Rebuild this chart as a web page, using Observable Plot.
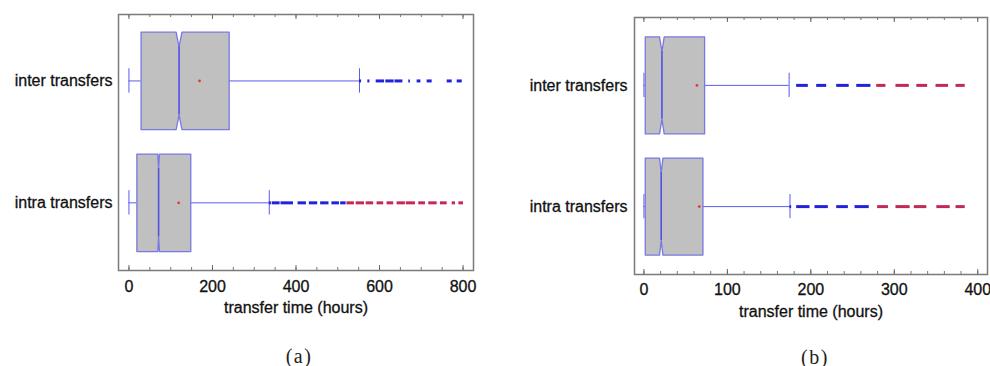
<!DOCTYPE html>
<html><head><meta charset="utf-8">
<script src="https://cdn.jsdelivr.net/npm/d3@7"></script>
<script src="https://cdn.jsdelivr.net/npm/@observablehq/plot@0.6"></script>
<style>
html,body{margin:0;padding:0;background:#fff;}
#fig{position:relative;width:990px;height:366px;overflow:hidden;font-family:"Liberation Sans",Arial,sans-serif;}
.panel{position:absolute;top:0;}
#fig svg text{stroke:#111;stroke-width:0.3px;}
.cap{position:absolute;font-family:"Liberation Serif","Times New Roman",serif;font-size:20px;letter-spacing:1.5px;transform:translate(-50%,-50%);white-space:nowrap;color:#222;}
</style></head><body>
<div id="fig"></div>
<script>
// ---------- data ----------
const groups = ["inter transfers", "intra transfers"];
const xTitle = "transfer time (hours)";
const captions = ["(a)", "(b)"];

// panel (a)
const aTicksMajor = [0, 200, 400, 600, 800];
const aTicksMinor = [0, 50, 100, 150, 200, 250, 300, 350, 400, 450, 500, 550, 600, 650, 700, 750, 800];
const aWhiskerLow = [0, 0];
const aQ1 = [29, 19];
const aNotchLow = [113, 69];
const aMedian = [120, 71];
const aNotchHigh = [127, 73];
const aQ3 = [240, 148];
const aWhiskerHigh = [552, 336];
const aMean = [169, 119];
const aInterOutBlue = [[552, 557], [572, 577], [592, 612], [615, 635], [637, 656], [670, 674], [690, 699], [714, 726], [762, 774], [786, 798]];
const aInterOutRed = [];
const aIntraOutBlue = [[336, 341], [343, 362], [364, 394], [405, 425], [432, 452], [459, 479], [486, 504], [507, 520]];
const aIntraOutRed = [[522, 540], [544, 564], [568, 586], [594, 610], [618, 634], [642, 662], [664, 686], [694, 710], [718, 738], [746, 762], [774, 782], [790, 801]];

// panel (b)
const bTicksMajor = [0, 100, 200, 300, 400];
const bTicksMinor = [0, 20, 40, 60, 80, 100, 120, 140, 160, 180, 200, 220, 240, 260, 280, 300, 320, 340, 360, 380, 400];
const bWhiskerLow = [0, 0];
const bQ1 = [1.6, 1.6];
const bNotchLow = [18.7, 18.7];
const bMedian = [21.6, 20.7];
const bNotchHigh = [24.3, 22.8];
const bQ3 = [72.7, 70.7];
const bWhiskerHigh = [174, 175];
const bMean = [63.5, 66.3];
const bInterOutBlue = [[183, 197], [207, 219], [231, 246], [255, 272]];
const bInterOutRed = [[279, 290], [302, 318], [327, 340], [350, 365], [374, 385]];
const bIntraOutBlue = [[175, 177], [183, 199], [205, 221], [231, 245], [253, 270]];
const bIntraOutRed = [[280, 293], [302, 319], [324, 339], [351, 367], [374, 385]];

// ---------- drawing ----------
const H = 0.4, NOTCH = 0.12, CAP = 0.1;
const BOX_FILL = "#c0c0c0", BOX_STROKE = "#7878e2", WHISK = "#5a5af0", MED = "#5050e6";
const OUT_BLUE = "#2222dd", OUT_RED = "#c22a55", MEAN = "#e03a3a";

function makePanel(p) {
  const rows = groups.map((g, i) => ({
    i, g, wlo: p.wlo[i], q1: p.q1[i], nlo: p.nlo[i], med: p.med[i], nhi: p.nhi[i],
    q3: p.q3[i], whi: p.whi[i], mean: p.mean[i]
  }));
  const poly = rows.flatMap(r => [
    [r.q1, r.i - H], [r.nlo, r.i - H], [r.med, r.i - H + NOTCH], [r.nhi, r.i - H], [r.q3, r.i - H],
    [r.q3, r.i + H], [r.nhi, r.i + H], [r.med, r.i + H - NOTCH], [r.nlo, r.i + H], [r.q1, r.i + H], [r.q1, r.i - H]
  ].map(([x, y]) => ({x, y, i: r.i})));
  const blue = [], red = [];
  p.outBlue.forEach((arr, i) => arr.forEach(([a, b]) => blue.push({i, a, b})));
  p.outRed.forEach((arr, i) => arr.forEach(([a, b]) => red.push({i, a, b})));
  const fh = p.height - p.mt - p.mb;
  return Plot.plot({
    width: p.width, height: p.height,
    marginLeft: p.ml, marginRight: p.mr, marginTop: p.mt, marginBottom: p.mb,
    x: {domain: p.xDomain},
    y: {domain: p.yDomain},
    style: {fontFamily: '"Liberation Sans", Arial, sans-serif', fontSize: "16px", color: "#111", background: "transparent", overflow: "visible"},
    marks: [
      Plot.ruleY(rows, {y: "i", x1: "wlo", x2: "q1", stroke: WHISK, strokeWidth: 1}),
      Plot.ruleY(rows, {y: "i", x1: "q3", x2: "whi", stroke: WHISK, strokeWidth: 1}),
      Plot.ruleX(rows, {x: "wlo", y1: d => d.i - CAP, y2: d => d.i + CAP, stroke: WHISK, strokeWidth: 1}),
      Plot.ruleX(rows, {x: "whi", y1: d => d.i - CAP, y2: d => d.i + CAP, stroke: WHISK, strokeWidth: 1}),
      Plot.line(poly, {x: "x", y: "y", z: "i", fill: BOX_FILL, stroke: BOX_STROKE, strokeWidth: 1.3, curve: "linear"}),
      Plot.ruleX(rows, {x: "med", y1: d => d.i - H + NOTCH, y2: d => d.i + H - NOTCH, stroke: MED, strokeWidth: 1.6}),
      Plot.dot(rows, {x: "mean", y: "i", r: 1.4, fill: MEAN, stroke: null}),
      Plot.ruleY(blue, {y: "i", x1: "a", x2: "b", stroke: OUT_BLUE, strokeWidth: 3}),
      Plot.ruleY(red, {y: "i", x1: "a", x2: "b", stroke: OUT_RED, strokeWidth: 3}),
      Plot.tickX(p.minor, {x: d => d, insetTop: fh - 3, stroke: "#777", strokeWidth: 1}),
      Plot.tickX(p.minor, {x: d => d, insetBottom: fh - 3, stroke: "#777", strokeWidth: 1}),
      Plot.tickX(p.major, {x: d => d, insetTop: fh - 5, stroke: "#666", strokeWidth: 1}),
      Plot.tickX(p.major, {x: d => d, insetBottom: fh - 5, stroke: "#666", strokeWidth: 1}),
      Plot.frame({stroke: "#7a7a7a", strokeWidth: 1.5}),
      Plot.axisX({ticks: p.major, tickSize: 0, tickPadding: p.xPad, fontSize: 16, tickFormat: d => String(d)}),
      Plot.axisY({ticks: [0, 1], tickSize: 0, tickPadding: p.yPad, fontSize: 16, tickFormat: i => groups[i]}),
      Plot.text([xTitle], {frameAnchor: "bottom", dy: 42, fontSize: 16, fill: "#111"})
    ]
  });
}

const fig = document.getElementById("fig");
const pa = makePanel({
  width: 490, height: 320, ml: 118, mr: 17, mt: 14, mb: 50,
  xDomain: [-25, 825], yDomain: [1.555, -0.545], xPad: 10, yPad: 6,
  major: aTicksMajor, minor: aTicksMinor,
  wlo: aWhiskerLow, q1: aQ1, nlo: aNotchLow, med: aMedian, nhi: aNotchHigh, q3: aQ3, whi: aWhiskerHigh, mean: aMean,
  outBlue: [aInterOutBlue, aIntraOutBlue], outRed: [aInterOutRed, aIntraOutRed]
});
const pb = makePanel({
  width: 490, height: 324, ml: 134, mr: 3, mt: 17, mb: 50,
  xDomain: [-11.3, 411.7], yDomain: [1.56, -0.56], xPad: 9, yPad: 7,
  major: bTicksMajor, minor: bTicksMinor,
  wlo: bWhiskerLow, q1: bQ1, nlo: bNotchLow, med: bMedian, nhi: bNotchHigh, q3: bQ3, whi: bWhiskerHigh, mean: bMean,
  outBlue: [bInterOutBlue, bIntraOutBlue], outRed: [bInterOutRed, bIntraOutRed]
});
const wa = document.createElement("div"); wa.className = "panel"; wa.style.left = "0px"; wa.appendChild(pa); fig.appendChild(wa);
const wb = document.createElement("div"); wb.className = "panel"; wb.style.left = "500px"; wb.appendChild(pb); fig.appendChild(wb);
[[captions[0], 299, 356], [captions[1], 815, 357]].forEach(([t, x, y]) => {
  const c = document.createElement("div"); c.className = "cap"; c.textContent = t;
  c.style.left = x + "px"; c.style.top = y + "px"; fig.appendChild(c);
});
</script>
</body></html>
